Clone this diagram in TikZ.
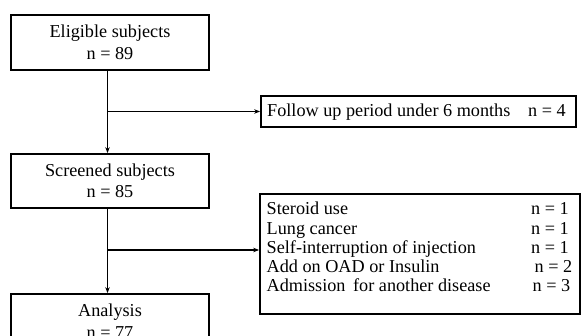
\documentclass[tikz,border=0pt]{standalone}
\usepackage{fontspec}
\setmainfont{Liberation Serif}
\usetikzlibrary{arrows.meta}
\tikzset{
  box/.style={draw, line width=1.7pt, rectangle, inner sep=0pt},
  txt/.style={anchor=base, inner sep=0pt, font=\fontsize{18.2}{21}\selectfont},
  txtw/.style={anchor=base west, inner sep=0pt, font=\fontsize{18.2}{21}\selectfont},
  conn/.style={line width=1.3pt, -{Stealth[length=6pt,width=4.5pt]}}
}
\begin{document}
\begin{tikzpicture}[x=1pt,y=-1pt]
\useasboundingbox (0,0) rectangle (582,336);
\clip (0,0) rectangle (582,336);
% main boxes
\node[box, minimum width=198pt, minimum height=55pt] (b1) at (110,42.5) {};
\node[txt] (b1a) at (110,38) {Eligible subjects};
\node[txt] (b1b) at (110,60) {n = 89};
\node[box, minimum width=198pt, minimum height=54pt] (b2) at (110,181) {};
\node[txt] (b2a) at (110,176.5) {Screened subjects};
\node[txt] (b2b) at (110,198) {n = 85};
\node[box, minimum width=198pt, minimum height=55pt] (b3) at (110,321.5) {};
\node[txt] (b3a) at (110,316.5) {Analysis};
\node[txt] (b3b) at (110,338.5) {n = 77};
% exclusion boxes
\node[box, minimum width=315pt, minimum height=31pt] (fu) at (418.5,111.5) {};
\node[txtw] (fua) at (267,116.5) {Follow up period under 6 months};
\node[txtw] (fub) at (528,116.5) {n = 4};
\node[box, minimum width=320pt, minimum height=120pt] (ex) at (420,254) {};
\node[txtw] (e1) at (266.5,215) {Steroid use};
\node[txtw] (e2) at (266.5,234.5) {Lung cancer};
\node[txtw] (e3) at (266.5,253.5) {Self-interruption of injection};
\node[txtw] (e4) at (266.5,272.5) {Add on OAD or Insulin};
\node[txtw] (e5) at (266.5,291.5) {Admission\, for another disease};
\node[txtw] (n1) at (531,215) {n = 1};
\node[txtw] (n2) at (531,234.5) {n = 1};
\node[txtw] (n3) at (531,253.5) {n = 1};
\node[txtw] (n4) at (534.5,272.5) {n = 2};
\node[txtw] (n5) at (532.5,291.5) {n = 3};
% connectors
\coordinate (s1) at ([xshift=-2.5pt]b1.south);
\coordinate (s2) at ([xshift=-2.5pt]b2.south);
\draw[conn] (s1) -- (s1 |- b2.north);
\draw[conn] (s1 |- fu.west) -- (fu.west);
\draw[conn] (s2) -- (s2 |- b3.north);
\draw[conn] (s2 |- 0,250) -- (ex.west |- 0,250);
\end{tikzpicture}
\end{document}
